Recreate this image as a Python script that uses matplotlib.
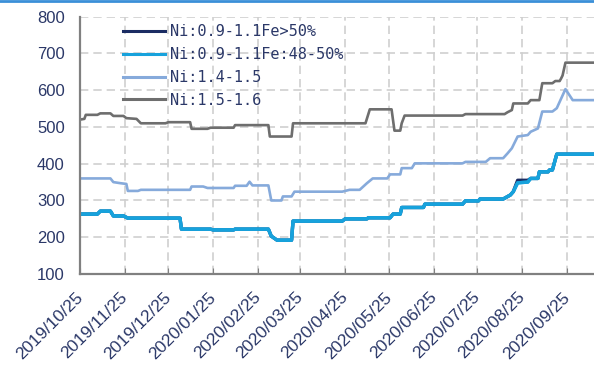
import pandas as pd
import matplotlib
matplotlib.use('Agg')
import matplotlib.pyplot as plt
import matplotlib.dates as mdates
import matplotlib.transforms as mtransforms
from matplotlib.lines import Line2D

# Series names
names = ['Ni:0.9-1.1Fe>50%', 'Ni:0.9-1.1Fe:48-50%', 'Ni:1.4-1.5', 'Ni:1.5-1.6']

# Ni:0.9-1.1Fe:48-50%
fe48_dates = ['2019-10-25', '2019-11-06', '2019-11-08', '2019-11-15', '2019-11-17', '2019-11-24',
              '2019-11-27', '2020-01-02', '2020-01-03', '2020-01-23', '2020-01-25', '2020-02-08',
              '2020-02-09', '2020-03-03', '2020-03-05', '2020-03-09', '2020-03-19', '2020-03-20',
              '2020-04-23', '2020-04-25', '2020-05-10', '2020-05-11', '2020-05-26', '2020-05-28',
              '2020-06-02', '2020-06-03', '2020-06-18', '2020-06-19', '2020-07-15', '2020-07-17',
              '2020-07-26', '2020-07-27', '2020-08-12', '2020-08-17', '2020-08-19', '2020-08-22',
              '2020-08-29', '2020-08-31', '2020-09-05', '2020-09-06', '2020-09-12', '2020-09-13',
              '2020-09-15', '2020-09-18', '2020-10-14']
fe48_values = [263, 263, 271, 271, 258, 258,
               252, 252, 222, 222, 220, 220,
               222, 222, 203, 192, 192, 244,
               244, 250, 250, 253, 253, 263,
               263, 281, 281, 290, 290, 299,
               299, 304, 304, 315, 324, 348,
               350, 360, 360, 378, 378, 383,
               383, 426, 426]

# Ni:0.9-1.1Fe>50%
fe50_dates = list(fe48_dates)
fe50_values = [263, 263, 271, 271, 258, 258,
               252, 252, 222, 222, 220, 220,
               222, 222, 203, 192, 192, 244,
               244, 250, 250, 253, 253, 263,
               263, 281, 281, 290, 290, 299,
               299, 304, 304, 315, 324, 355,
               355, 360, 360, 378, 378, 383,
               383, 426, 426]

# Ni:1.4-1.5
ni14_dates = ['2019-10-25', '2019-11-15', '2019-11-17', '2019-11-22', '2019-11-26', '2019-11-27',
              '2019-12-04', '2019-12-06', '2020-01-09', '2020-01-10', '2020-01-18', '2020-01-21',
              '2020-02-08', '2020-02-09', '2020-02-17', '2020-02-19', '2020-02-21', '2020-03-03',
              '2020-03-05', '2020-03-12', '2020-03-13', '2020-03-19', '2020-03-21', '2020-04-23',
              '2020-04-28', '2020-05-05', '2020-05-10', '2020-05-14', '2020-05-24', '2020-05-26',
              '2020-06-02', '2020-06-03', '2020-06-10', '2020-06-12', '2020-07-15', '2020-07-17',
              '2020-07-31', '2020-08-03', '2020-08-12', '2020-08-15', '2020-08-18', '2020-08-22',
              '2020-08-29', '2020-08-31', '2020-09-05', '2020-09-08', '2020-09-15', '2020-09-18',
              '2020-09-24', '2020-09-29', '2020-10-14']
ni14_values = [360, 360, 350, 347, 345, 326,
               326, 329, 329, 338, 338, 334,
               334, 340, 340, 351, 341, 341,
               300, 300, 311, 311, 324, 324,
               329, 329, 347, 360, 360, 371,
               371, 388, 388, 401, 401, 405,
               405, 415, 415, 428, 442, 474,
               478, 487, 496, 542, 542, 551,
               603, 573, 573]

# Ni:1.5-1.6
ni15_dates = ['2019-10-25', '2019-10-28', '2019-10-29', '2019-11-06', '2019-11-08', '2019-11-15',
              '2019-11-17', '2019-11-24', '2019-11-26', '2019-12-03', '2019-12-06', '2019-12-23',
              '2019-12-25', '2020-01-09', '2020-01-10', '2020-01-21', '2020-01-23', '2020-02-08',
              '2020-02-09', '2020-03-03', '2020-03-04', '2020-03-19', '2020-03-20', '2020-05-09',
              '2020-05-12', '2020-05-27', '2020-05-29', '2020-06-02', '2020-06-03', '2020-06-05',
              '2020-07-15', '2020-07-17', '2020-08-13', '2020-08-15', '2020-08-18', '2020-08-19',
              '2020-08-29', '2020-08-31', '2020-09-06', '2020-09-08', '2020-09-15', '2020-09-17',
              '2020-09-20', '2020-09-21', '2020-09-22', '2020-09-24', '2020-10-14']
ni15_values = [520, 522, 533, 533, 537, 537,
               530, 530, 524, 522, 510, 510,
               513, 513, 495, 495, 498, 498,
               505, 505, 474, 474, 510, 510,
               548, 548, 490, 490, 510, 531,
               531, 535, 535, 540, 546, 564,
               564, 573, 573, 619, 619, 625,
               625, 632, 640, 675, 675]

tick_dates = ['2019-10-25', '2019-11-25', '2019-12-25', '2020-01-25', '2020-02-25', '2020-03-25',
              '2020-04-25', '2020-05-25', '2020-06-25', '2020-07-25', '2020-08-25', '2020-09-25']

colors = ['#1b2c63', '#17a2dc', '#86aadb', '#6e6e6e']
text_color = '#2b3868'

fig = plt.figure(figsize=(5.94, 3.68), dpi=100)
ax = fig.add_axes([80 / 594, 94 / 368, 1 - 80 / 594, 257.3 / 368])

series = [(fe50_dates, fe50_values), (fe48_dates, fe48_values),
          (ni14_dates, ni14_values), (ni15_dates, ni15_values)]
widths = [2.4, 2.4, 1.9, 1.9]
for (d, v), c, lw, name in zip(series, colors, widths, names):
    ax.plot(pd.to_datetime(d), v, color=c, lw=lw, label=name)

# fe48 drawn again on top so only the short >50% segment shows
ax.plot(pd.to_datetime(fe48_dates), fe48_values, color=colors[1], lw=2.4)

start = pd.Timestamp('2019-10-25')
ax.set_xlim(start, start + pd.Timedelta(days=354.7))
ax.set_ylim(100, 800)
ax.set_yticks(range(100, 801, 100))
ticks = pd.to_datetime(tick_dates)
ax.set_xticks(ticks)
ax.xaxis.set_major_formatter(mdates.DateFormatter('%Y/%m/%d'))

ax.grid(True, color='#cfcfcf', linestyle=(0, (5, 3)), linewidth=1.2)
ax.set_axisbelow(True)
for s in ['top', 'right']:
    ax.spines[s].set_visible(False)
for s in ['left', 'bottom']:
    ax.spines[s].set_color('#808080')
    ax.spines[s].set_linewidth(1.6)

ax.tick_params(axis='y', length=0, pad=11, labelsize=12, labelcolor=text_color)
ax.tick_params(axis='x', direction='in', length=4, color='#808080', pad=9,
               labelsize=12.5, labelcolor=text_color)
for lab in ax.get_yticklabels() + ax.get_xticklabels():
    lab.set_fontfamily('Liberation Sans')
# nudge date labels a little left and down
shift = mtransforms.ScaledTranslation(-5 / 100, -3 / 100, fig.dpi_scale_trans)
for lab in ax.get_xticklabels():
    lab.set_rotation(45)
    lab.set_ha('right')
    lab.set_va('top')
    lab.set_rotation_mode('anchor')
    lab.set_transform(lab.get_transform() + shift)

handles = [Line2D([], [], color=c, lw=2.2) for c in colors]
leg = fig.legend(handles, names, loc='upper left', bbox_to_anchor=(123 / 594, 1 - 24 / 368),
                 frameon=False, borderpad=0, borderaxespad=0, handlelength=2.75,
                 handletextpad=0.3, labelspacing=0.52,
                 prop={'family': 'DejaVu Sans Mono', 'size': 11})
for t in leg.get_texts():
    t.set_color(text_color)

# blue rule along the top edge
fig.add_artist(Line2D([0, 1], [0.997, 0.997], transform=fig.transFigure,
                      color='#3a8fd8', lw=2))

fig.savefig('out.png', dpi=100)
